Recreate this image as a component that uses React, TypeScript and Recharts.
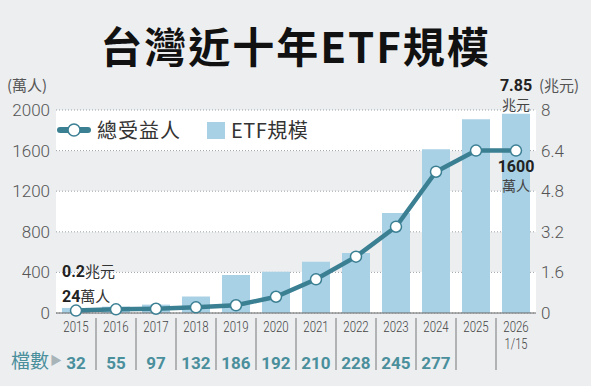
import React from 'react';
import { ComposedChart, Bar, Line, XAxis, YAxis, CartesianGrid, Legend, LabelList } from 'recharts';

const years = ['2015', '2016', '2017', '2018', '2019', '2020', '2021', '2022', '2023', '2024', '2025', '2026'];
const yearSub = ['', '', '', '', '', '', '', '', '', '', '', '1/15'];
const holders = [24, 36, 42, 56, 76, 160, 332, 555, 850, 1392, 1600, 1600];
const etfSize = [0.2, 0.25, 0.33, 0.65, 1.5, 1.63, 2.02, 2.36, 3.94, 6.45, 7.64, 7.85];
const fundCounts: (number | null)[] = [32, 55, 97, 132, 186, 192, 210, 228, 245, 277, null, null];
const leftTicks = [0, 400, 800, 1200, 1600, 2000];
const rightTicks = [0, 1.6, 3.2, 4.8, 6.4, 8];

const data = years.map((y, i) => ({
  year: y,
  sub: yearSub[i],
  holders: holders[i],
  size: etfSize[i],
  count: fundCounts[i],
}));

const LINE = '#3b7f93';
const BAR = '#a9d1e5';
const TEAL = '#4a8f9c';
const BG = '#eceef0';
const FONT = "Roboto, 'Noto Sans CJK TC', sans-serif";
const CJK = "'Noto Sans CJK TC', sans-serif";

const XTick = (props: any) => {
  const { x, y, index, payload } = props;
  const d = data[index];
  const last = index === data.length - 1;
  return (
    <g>
      <g transform={`translate(${x},${y + 19}) scale(0.74,1)`}>
        <text textAnchor="middle" fontSize={15.5} fontWeight={300} fill="#444" fontFamily={FONT}>{payload.value}</text>
      </g>
      {d && d.sub ? (
        <g transform={`translate(${x},${y + 36}) scale(0.74,1)`}>
          <text textAnchor="middle" fontSize={15} fontWeight={300} fill="#444" fontFamily={FONT}>{d.sub}</text>
        </g>
      ) : null}
      {d && d.count != null ? (
        <text x={x} y={y + 56} textAnchor="middle" fontSize={17} fontWeight={700} fill={TEAL} fontFamily={FONT}>{d.count}</text>
      ) : null}
      {!last ? <line x1={x + 20} x2={x + 20} y1={y + 5} y2={y + 57} stroke="#777" strokeWidth={1} /> : null}
    </g>
  );
};

const BarLabel = (props: any) => {
  const { x, y, width, index, value } = props;
  if (index === 0) {
    return (
      <text x={x} y={y - 31} fontFamily={FONT} fill="#222">
        <tspan fontSize={16} fontWeight={700}>{value}</tspan>
        <tspan fontSize={15} fontFamily={CJK} fill="#333">兆元</tspan>
      </text>
    );
  }
  if (index === data.length - 1) {
    const cx = x + width / 2;
    return (
      <g>
        <text x={cx} y={y - 23} textAnchor="middle" fontSize={16} fontWeight={700} fill="#222" fontFamily={FONT}>{value}</text>
        <text x={cx} y={y - 4} textAnchor="middle" fontSize={14} fill="#444" fontFamily={CJK}>兆元</text>
      </g>
    );
  }
  return null;
};

const LineLabel = (props: any) => {
  const { x, y, index, value } = props;
  if (index === 0) {
    return (
      <text x={x - 14} y={y - 9} fontFamily={FONT} fill="#222">
        <tspan fontSize={16} fontWeight={700}>{value}</tspan>
        <tspan fontSize={15} fontFamily={CJK} fill="#333">萬人</tspan>
      </text>
    );
  }
  if (index === data.length - 1) {
    return (
      <g>
        <text x={x} y={y + 21} textAnchor="middle" fontSize={16} fontWeight={700} fill="#222" fontFamily={FONT}>{value}</text>
        <text x={x} y={y + 40} textAnchor="middle" fontSize={14} fill="#444" fontFamily={CJK}>萬人</text>
      </g>
    );
  }
  return null;
};

const LegendContent = () => (
  <div style={{ display: 'flex', alignItems: 'center', fontFamily: CJK, fontSize: 20, color: '#333', lineHeight: '24px' }}>
    <svg width={34} height={16} style={{ marginRight: 6 }}>
      <line x1={3} x2={31} y1={8} y2={8} stroke={LINE} strokeWidth={6} strokeLinecap="round" />
      <circle cx={17} cy={8} r={6} fill="#fff" stroke={LINE} strokeWidth={1.5} />
    </svg>
    <span style={{ letterSpacing: 1 }}>總受益人</span>
    <span style={{ display: 'inline-block', width: 18, height: 17, background: BAR, marginLeft: 26, marginRight: 6 }} />
    <span style={{ letterSpacing: 0.5 }}>ETF規模</span>
  </div>
);

export default function App() {
  return (
    <div style={{ position: 'absolute', left: 0, top: 0, width: 591, height: 386, background: BG, fontFamily: FONT, overflow: 'hidden' }}>
      <div style={{ position: 'absolute', left: 0, top: 24, width: 591, textAlign: 'center', fontFamily: CJK, fontWeight: 700, fontSize: 42, lineHeight: '42px', letterSpacing: 2, color: '#111' }}>
        台灣近十年ETF規模
      </div>
      <div style={{ position: 'absolute', left: 7, top: 75, fontFamily: CJK, fontSize: 15, color: '#555', lineHeight: '20px' }}>(萬人)</div>
      <div style={{ position: 'absolute', left: 539, top: 75, fontFamily: CJK, fontSize: 15, color: '#555', lineHeight: '20px' }}>(兆元)</div>
      <div style={{ position: 'absolute', left: 11, top: 349, fontFamily: CJK, fontSize: 19, color: TEAL, lineHeight: '22px', display: 'flex', alignItems: 'center' }}>
        <span>檔數</span>
        <span style={{ fontSize: 12, color: '#a8b4b8', marginLeft: 1 }}>▶</span>
      </div>
      <ComposedChart width={591} height={386} data={data} margin={{ top: 110, right: 0, bottom: 0, left: 0 }}>
        <CartesianGrid yAxisId="left" vertical={false} stroke="#9aa3a8" strokeDasharray="1 2" horizontalFill={['#ffffff', BG]} fillOpacity={1} />
        <XAxis dataKey="year" interval={0} height={73} tickSize={0} tickMargin={0} tickLine={false} axisLine={{ stroke: '#666', strokeWidth: 1 }} tick={<XTick />} />
        <YAxis yAxisId="left" domain={[0, 2000]} ticks={leftTicks} width={56} axisLine={false} tickLine={false} tickSize={4} tickMargin={2} tick={{ fontSize: 17, fill: '#555', fontWeight: 300, fontFamily: FONT }} />
        <YAxis yAxisId="right" orientation="right" domain={[0, 8]} ticks={rightTicks} width={55} axisLine={false} tickLine={false} tickSize={3} tickMargin={2} tick={{ fontSize: 17, fill: '#555', fontWeight: 300, fontFamily: FONT, textAnchor: 'start' }} />
        <Legend layout="horizontal" verticalAlign="middle" align="center" wrapperStyle={{ left: 57, top: 118, width: 'auto' }} content={<LegendContent />} />
        <Bar yAxisId="right" dataKey="size" fill={BAR} barSize={28} isAnimationActive={false}>
          <LabelList dataKey="size" content={<BarLabel />} />
        </Bar>
        <Line yAxisId="left" dataKey="holders" stroke={LINE} strokeWidth={4.5} dot={{ r: 5.5, fill: '#fff', stroke: LINE, strokeWidth: 1.5 }} isAnimationActive={false}>
          <LabelList dataKey="holders" content={<LineLabel />} />
        </Line>
      </ComposedChart>
    </div>
  );
}
